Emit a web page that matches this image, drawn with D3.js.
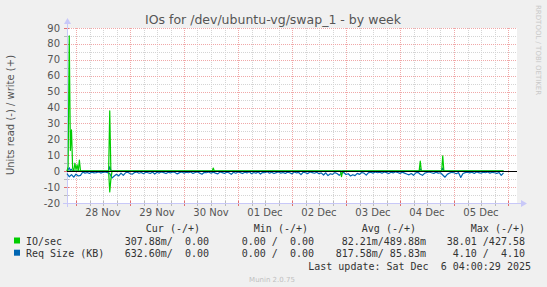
<!DOCTYPE html>
<html>
<head>
<meta charset="utf-8">
<script src="https://cdn.jsdelivr.net/npm/d3@7"></script>
<style>
  body { margin: 0; background: #f0f0f0; }
  svg { display: block; }
  text { font-family: "DejaVu Sans", sans-serif; }
  .mono { font-family: "DejaVu Sans Mono", monospace; font-size: 10px; fill: #333; white-space: pre; }
</style>
</head>
<body>
<div id="chart"></div>
<script>
// time window of the week graph (UTC so nothing shifts)
const START = Date.UTC(2025, 10, 27, 20)
const END = Date.UTC(2025, 11, 6, 4)

const dayLabels = ["28 Nov", "29 Nov", "30 Nov", "01 Dec", "02 Dec", "03 Dec", "04 Dec", "05 Dec"]
const yTicks = [-20, -10, 0, 10, 20, 30, 40, 50, 60, 70, 80, 90]

// IO/sec, [hours from START, value]
const ioWrite = [[0,0],[0.5,3],[1,85],[1.5,13],[2,26],[2.5,2],[3,0],[3.5,5],[4,1],[4.5,4],[5,0],[5.5,7],[6,0],
  [18.5,0],[19,38],[19.5,0],[64.5,0],[65,2],[65.5,0],[156.5,0],[157,6.3],[157.5,0],
  [166.5,0],[167,9.7],[167.5,0],[194,0]]
const ioRead = [[0,0],[18.5,0],[19,13],[19.5,5],[20,0],[121.5,0],[122,3.5],[122.5,0],[194,0]]

// Req Size (KB) write, sparse [hours, value]
const reqWrite = [[0,0],[0.5,1],[1,2.2],[1.5,0.5],[2,1.2],[2.5,0],[18.5,0],[19,2.8],[19.5,0.5],[20,0],
  [156.5,0],[157,1.5],[157.5,0],[166.5,0],[167,2],[167.5,0],[194,0]]
// Req Size (KB) read, one value per hour from START
const reqRead = [
  1.5,3.5,2.2,3.8,1.9,3.0,2.6,0.5,1.2,0.8,1.4,0.6,1.1,0.9,0.4,1.2,0.7,0.5,0.9,1.5,
  4.3,3.0,2.0,3.0,1.2,2.6,1.0,0.6,1.5,1.9,0.9,0.5,1.3,0.8,1.6,0.6,1.0,1.4,0.5,1.8,
  0.7,1.2,0.4,0.9,1.5,0.6,1.1,0.5,0.8,1.7,0.9,0.4,1.3,0.6,1.0,0.5,1.4,0.8,0.5,1.2,
  1.9,0.7,1.0,0.5,1.3,0.6,1.2,1.7,0.5,0.9,1.4,0.6,1.0,2.0,0.7,1.3,0.5,0.9,1.5,0.6,
  1.1,0.4,1.6,0.8,1.2,0.5,1.8,0.7,1.0,0.4,1.3,0.6,1.5,0.9,0.5,1.2,0.8,1.4,0.6,1.0,
  1.7,0.5,1.1,0.8,2.2,0.6,1.0,1.5,0.5,0.9,1.3,0.7,1.6,1.1,2.4,1.0,2.8,1.6,2.0,0.9,
  1.5,2.6,1.2,0.8,2.1,1.6,3.0,2.2,2.8,1.4,2.0,0.8,1.2,2.5,0.9,0.7,1.2,0.5,1.0,0.6,
  1.3,0.5,0.9,1.5,0.6,1.1,0.4,0.8,1.4,0.6,1.2,1.8,2.3,1.5,2.6,1.0,0.7,1.9,2.6,1.2,
  0.8,0.5,1.0,1.4,0.6,1.2,1.0,2.4,3.8,2.0,1.2,0.7,1.0,1.6,0.8,3.9,1.5,0.9,0.6,1.1,
  0.7,1.4,0.5,0.9,1.3,0.6,1.0,0.5,1.2,0.7,1.0,1.4,0.8,2.6,1.0]

const legendRows = [
  { name: "IO/sec", color: "#00cc00", cur: "307.88m/  0.00", min: "0.00 /  0.00", avg: "82.21m/489.88m", max: "38.01 /427.58" },
  { name: "Req Size (KB)", color: "#0066b3", cur: "632.60m/  0.00", min: "0.00 /  0.00", avg: "817.58m/ 85.83m", max: "4.10 /  4.10" }
]

const W = 547, H = 287
const svg = d3.select("#chart").append("svg").attr("width", W).attr("height", H)

const x = d3.scaleUtc().domain([START, END]).range([67, 517])
const y = d3.scaleLinear().domain([-20, 90]).range([203, 28])
const hr = h => START + h * 3600000

svg.append("rect").attr("width", W).attr("height", H).attr("fill", "#f0f0f0")
svg.append("rect").attr("x", 67).attr("y", 28).attr("width", 450).attr("height", 175).attr("fill", "#fff")

// grid
const g = svg.append("g").attr("shape-rendering", "crispEdges")
const minorX = d3.utcHour.every(6).range(new Date(START), new Date(END))
const majorX = d3.utcDay.range(new Date(START), new Date(END))
g.selectAll(".vx").data(minorX).join("line")
  .attr("x1", d => Math.round(x(d)) + 0.5).attr("x2", d => Math.round(x(d)) + 0.5)
  .attr("y1", 28).attr("y2", 203)
  .attr("stroke", d => d.getUTCHours() === 0 ? "#f0a8a8" : "#d4d4d4").attr("stroke-dasharray", "1,1")
const minorY = d3.range(-20, 91, 5)
g.selectAll(".hy").data(minorY).join("line")
  .attr("x1", 67).attr("x2", 517)
  .attr("y1", d => Math.round(y(d)) + 0.5).attr("y2", d => Math.round(y(d)) + 0.5)
  .attr("stroke", d => d % 10 === 0 ? "#f0a8a8" : "#d4d4d4").attr("stroke-dasharray", "1,1")

// tick marks
g.selectAll(".tx").data(minorX).join("line")
  .attr("x1", d => Math.round(x(d)) + 0.5).attr("x2", d => Math.round(x(d)) + 0.5)
  .attr("y1", 201).attr("y2", 206)
  .attr("stroke", d => d.getUTCHours() === 0 ? "#e07070" : "#bbbbbb")
g.selectAll(".ty").data(minorY).join("line")
  .attr("x1", 64).attr("x2", 69)
  .attr("y1", d => Math.round(y(d)) + 0.5).attr("y2", d => Math.round(y(d)) + 0.5)
  .attr("stroke", d => d % 10 === 0 ? "#e07070" : "#bbbbbb")

// axes lines with arrows
const axisCol = "#c8c8f8"
g.append("line").attr("x1", 63).attr("x2", 521).attr("y1", 203.5).attr("y2", 203.5).attr("stroke", axisCol)
g.append("line").attr("x1", 67.5).attr("x2", 67.5).attr("y1", 207).attr("y2", 24).attr("stroke", axisCol)
svg.append("path").attr("d", "M521,200 L527,203.5 L521,207 Z").attr("fill", axisCol)
svg.append("path").attr("d", "M64,24 L67.5,18 L71,24 Z").attr("fill", axisCol)

// labels
svg.selectAll(".yl").data(yTicks).join("text")
  .attr("x", 60).attr("y", d => y(d) + 3.5).attr("text-anchor", "end")
  .attr("font-size", 10).attr("fill", "#555").text(d => d)
svg.selectAll(".xl").data(dayLabels).join("text")
  .attr("x", (d, i) => x(majorX[i].getTime() + 12 * 3600000)).attr("y", 216)
  .attr("text-anchor", "middle").attr("font-size", 10).attr("fill", "#555").text(d => d)

svg.append("text").attr("x", 273).attr("y", 24).attr("text-anchor", "middle")
  .attr("font-size", 12.5).attr("fill", "#555").text("IOs for /dev/ubuntu-vg/swap_1 - by week")
svg.append("text").attr("transform", "translate(14,115) rotate(-90)").attr("text-anchor", "middle")
  .attr("font-size", 10).attr("fill", "#555").text("Units read (-) / write (+)")
svg.append("text").attr("transform", "translate(536,5) rotate(90)").attr("text-anchor", "start")
  .attr("font-size", 7).attr("fill", "#c8c8c8").text("RRDTOOL / TOBI OETIKER")

// data lines
const line = d3.line().x(d => x(hr(d[0]))).y(d => y(d[1]))
const readPts = reqRead.map((v, i) => [i, -v])
const series = [
  { pts: reqWrite, col: "#0066b3" },
  { pts: readPts, col: "#0066b3" },
  { pts: ioWrite, col: "#00cc00" },
  { pts: ioRead.map(d => [d[0], -d[1]]), col: "#00cc00" }
]
svg.selectAll(".series").data(series).join("path")
  .attr("d", d => line(d.pts)).attr("fill", "none")
  .attr("stroke", d => d.col).attr("stroke-width", 1.2).attr("stroke-linejoin", "round")

svg.append("line").attr("x1", 67).attr("x2", 517).attr("y1", Math.round(y(0)) + 0.5).attr("y2", Math.round(y(0)) + 0.5)
  .attr("stroke", "#000").attr("shape-rendering", "crispEdges")

// legend
const headers = [["Cur (-/+)", 200], ["Min (-/+)", 308], ["Avg (-/+)", 416], ["Max (-/+)", 525]]
svg.selectAll(".hd").data(headers).join("text").attr("class", "mono")
  .attr("x", d => d[1]).attr("y", 232).attr("text-anchor", "end").text(d => d[0])
legendRows.forEach((r, i) => {
  const yy = 245 + i * 12.2
  svg.append("rect").attr("x", 14).attr("y", yy - 7.5).attr("width", 6).attr("height", 6).attr("fill", r.color)
  svg.append("text").attr("class", "mono").attr("x", 26).attr("y", yy).text(r.name)
  svg.append("text").attr("class", "mono").attr("x", 209).attr("y", yy).attr("text-anchor", "end").text(r.cur)
  svg.append("text").attr("class", "mono").attr("x", 314).attr("y", yy).attr("text-anchor", "end").text(r.min)
  svg.append("text").attr("class", "mono").attr("x", 426).attr("y", yy).attr("text-anchor", "end").text(r.avg)
  svg.append("text").attr("class", "mono").attr("x", 525).attr("y", yy).attr("text-anchor", "end").text(r.max)
})
svg.append("text").attr("class", "mono").attr("x", 531).attr("y", 269.5).attr("text-anchor", "end")
  .text("Last update: Sat Dec  6 04:00:29 2025")
svg.append("text").attr("x", 272).attr("y", 282).attr("text-anchor", "middle")
  .attr("font-size", 7).attr("fill", "#c0c0c0").text("Munin 2.0.75")
</script>
</body>
</html>
